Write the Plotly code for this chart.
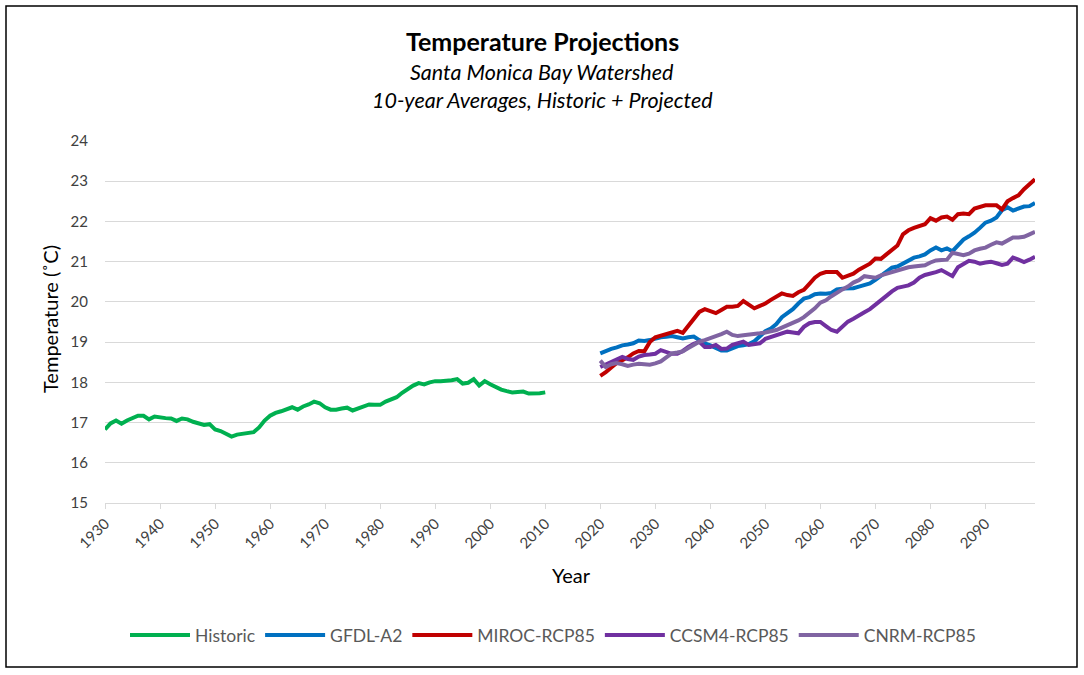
import plotly.graph_objects as go

hist_years = list(range(1930, 2011))
historic = [16.83, 16.98, 17.05, 16.97, 17.05, 17.12, 17.17, 17.17, 17.08, 17.15,
            17.12, 17.11, 17.10, 17.04, 17.10, 17.08, 17.02, 16.98, 16.94, 16.96,
            16.83, 16.79, 16.72, 16.65, 16.70, 16.72, 16.73, 16.76, 16.88, 17.05,
            17.17, 17.24, 17.28, 17.32, 17.38, 17.32, 17.40, 17.45, 17.52, 17.48,
            17.38, 17.32, 17.32, 17.35, 17.37, 17.30, 17.35, 17.40, 17.45, 17.44,
            17.44, 17.52, 17.57, 17.63, 17.74, 17.83, 17.92, 17.98, 17.95, 18.00,
            18.03, 18.03, 18.03, 18.05, 18.08, 17.97, 17.99, 18.08, 17.92, 18.03,
            17.95, 17.88, 17.82, 17.78, 17.75, 17.76, 17.77, 17.72, 17.72, 17.73,
            17.75]

proj_years = list(range(2020, 2100))
gfdl = [18.72, 18.78, 18.83, 18.87, 18.92, 18.94, 18.97, 19.04, 19.03, 19.05,
        19.09, 19.12, 19.13, 19.15, 19.12, 19.09, 19.12, 19.14, 19.05, 18.97,
        18.92, 18.86, 18.79, 18.79, 18.84, 18.90, 18.92, 18.95, 19.02, 19.15,
        19.27, 19.34, 19.45, 19.62, 19.72, 19.82, 19.96, 20.08, 20.12, 20.19,
        20.21, 20.20, 20.22, 20.31, 20.33, 20.33, 20.34, 20.38, 20.42, 20.46,
        20.55, 20.65, 20.77, 20.85, 20.88, 20.95, 21.04, 21.10, 21.13, 21.18,
        21.28, 21.35, 21.28, 21.33, 21.26, 21.42, 21.55, 21.63, 21.72, 21.84,
        21.97, 22.02, 22.10, 22.28, 22.35, 22.27, 22.33, 22.37, 22.38, 22.46]
miroc = [18.16, 18.25, 18.37, 18.48, 18.55, 18.62, 18.72, 18.78, 18.77, 19.00,
         19.12, 19.16, 19.20, 19.24, 19.28, 19.23, 19.40, 19.58, 19.75, 19.82,
         19.77, 19.72, 19.80, 19.88, 19.88, 19.90, 20.02, 19.92, 19.84, 19.90,
         19.96, 20.05, 20.14, 20.21, 20.17, 20.15, 20.24, 20.30, 20.45, 20.60,
         20.70, 20.74, 20.74, 20.74, 20.60, 20.64, 20.70, 20.80, 20.87, 20.95,
         21.08, 21.07, 21.18, 21.28, 21.40, 21.68, 21.78, 21.84, 21.88, 21.93,
         22.08, 22.02, 22.10, 22.12, 22.04, 22.18, 22.20, 22.18, 22.32, 22.36,
         22.40, 22.40, 22.40, 22.30, 22.50, 22.58, 22.65, 22.80, 22.92, 23.05]
ccsm4 = [18.38, 18.44, 18.50, 18.58, 18.63, 18.58, 18.56, 18.64, 18.68, 18.69,
         18.71, 18.80, 18.76, 18.71, 18.71, 18.78, 18.88, 18.96, 19.01, 18.88,
         18.88, 18.93, 18.83, 18.84, 18.93, 18.97, 19.01, 18.93, 18.94, 18.97,
         19.08, 19.13, 19.18, 19.22, 19.26, 19.24, 19.22, 19.38, 19.47, 19.50,
         19.50, 19.40, 19.30, 19.26, 19.38, 19.51, 19.58, 19.67, 19.74, 19.82,
         19.94, 20.04, 20.15, 20.26, 20.35, 20.38, 20.41, 20.48, 20.60, 20.67,
         20.70, 20.74, 20.79, 20.72, 20.64, 20.86, 20.95, 21.02, 21.00, 20.95,
         20.98, 21.00, 20.96, 20.92, 20.95, 21.10, 21.05, 20.99, 21.05, 21.12]
cnrm = [18.54, 18.38, 18.45, 18.48, 18.45, 18.41, 18.44, 18.46, 18.45, 18.44,
        18.47, 18.52, 18.62, 18.72, 18.74, 18.77, 18.85, 18.94, 19.01, 19.05,
        19.09, 19.15, 19.20, 19.26, 19.18, 19.15, 19.17, 19.18, 19.20, 19.22,
        19.24, 19.27, 19.30, 19.36, 19.42, 19.47, 19.54, 19.62, 19.72, 19.84,
        19.98, 20.04, 20.14, 20.24, 20.31, 20.38, 20.48, 20.54, 20.64, 20.62,
        20.60, 20.66, 20.70, 20.74, 20.78, 20.83, 20.86, 20.88, 20.90, 20.91,
        20.98, 21.03, 21.04, 21.05, 21.22, 21.20, 21.16, 21.20, 21.28, 21.32,
        21.35, 21.42, 21.48, 21.45, 21.53, 21.60, 21.60, 21.62, 21.68, 21.74]

series_names = ["Historic", "GFDL-A2", "MIROC-RCP85", "CCSM4-RCP85", "CNRM-RCP85"]
colors = ["#00B050", "#0070C0", "#C00000", "#7030A0", "#8064A2"]
x_ticks = list(range(1930, 2100, 10))
y_ticks = list(range(15, 25))

FONT = "Lato, 'Open Sans', sans-serif"

fig = go.Figure()
data = [(hist_years, historic), (proj_years, gfdl), (proj_years, miroc),
        (proj_years, ccsm4), (proj_years, cnrm)]
for (xs, ys), name, col in zip(data, series_names, colors):
    fig.add_trace(go.Scatter(x=xs, y=ys, mode="lines", name=name,
                             line=dict(color=col, width=4)))

W, H = 1084, 675
L, R, T, B = 105, 1035, 141, 503
pw, ph = R - L, B - T

def px(x):
    return (x - L) / pw

def py(y):
    return (B - y) / ph

fig.update_layout(
    width=W, height=H,
    margin=dict(l=L, r=W - R, t=T, b=H - B),
    paper_bgcolor="white", plot_bgcolor="white",
    font=dict(family=FONT, color="#404040"),
    showlegend=True,
    legend=dict(orientation="h", x=px(553), xanchor="center", y=py(635), yanchor="middle",
                font=dict(size=17.5, color="#595959"), itemwidth=60,
                tracegroupgap=0),
    xaxis=dict(range=[1930, 2099], tickvals=x_ticks, ticktext=[str(v) for v in x_ticks],
               tickangle=-45, showgrid=False, showline=True, linecolor="#D9D9D9",
               ticks="outside", ticklen=5, tickcolor="#D9D9D9",
               tickfont=dict(size=15, color="#404040"), zeroline=False),
    yaxis=dict(range=[15, 24], tickvals=y_ticks, showgrid=True, gridcolor="#D9D9D9",
               gridwidth=1.3, zeroline=False, showline=False, ticks="",
               ticklabelstandoff=16,
               tickfont=dict(size=15, color="#404040")),
    annotations=[
        dict(text="<b>Temperature Projections</b>", x=px(542), y=py(41), xref="paper", yref="paper",
             showarrow=False, font=dict(size=25, color="black", family=FONT), yanchor="middle"),
        dict(text="<i>Santa Monica Bay Watershed</i>", x=px(542), y=py(72), xref="paper",
             yref="paper", showarrow=False, font=dict(size=21.5, color="black", family=FONT),
             yanchor="middle"),
        dict(text="<i>10-year Averages, Historic + Projected</i>", x=px(542), y=py(100),
             xref="paper", yref="paper", showarrow=False,
             font=dict(size=21.5, color="black", family=FONT), yanchor="middle"),
        dict(text="Year", x=px(571), y=py(575), xref="paper", yref="paper", showarrow=False,
             font=dict(size=20, color="black", family=FONT), yanchor="middle"),
        dict(text="Temperature (˚C)", x=px(50), y=py(319), xref="paper", yref="paper",
             showarrow=False, textangle=-90, font=dict(size=20, color="black", family=FONT),
             xanchor="center", yanchor="middle"),
    ],
    shapes=[dict(type="rect", xref="paper", yref="paper",
                 x0=px(6), x1=px(1077), y0=py(667), y1=py(6),
                 line=dict(color="black", width=1.5), fillcolor="rgba(0,0,0,0)")],
)

fig.write_html("out.html", config={"displayModeBar": False})

with open("out.html", "r", encoding="utf-8") as f:
    html = f.read()
html = html.replace("<head>", "<head><style>html,body{margin:0;padding:0;overflow:hidden;}</style>", 1)
with open("out.html", "w", encoding="utf-8") as f:
    f.write(html)
